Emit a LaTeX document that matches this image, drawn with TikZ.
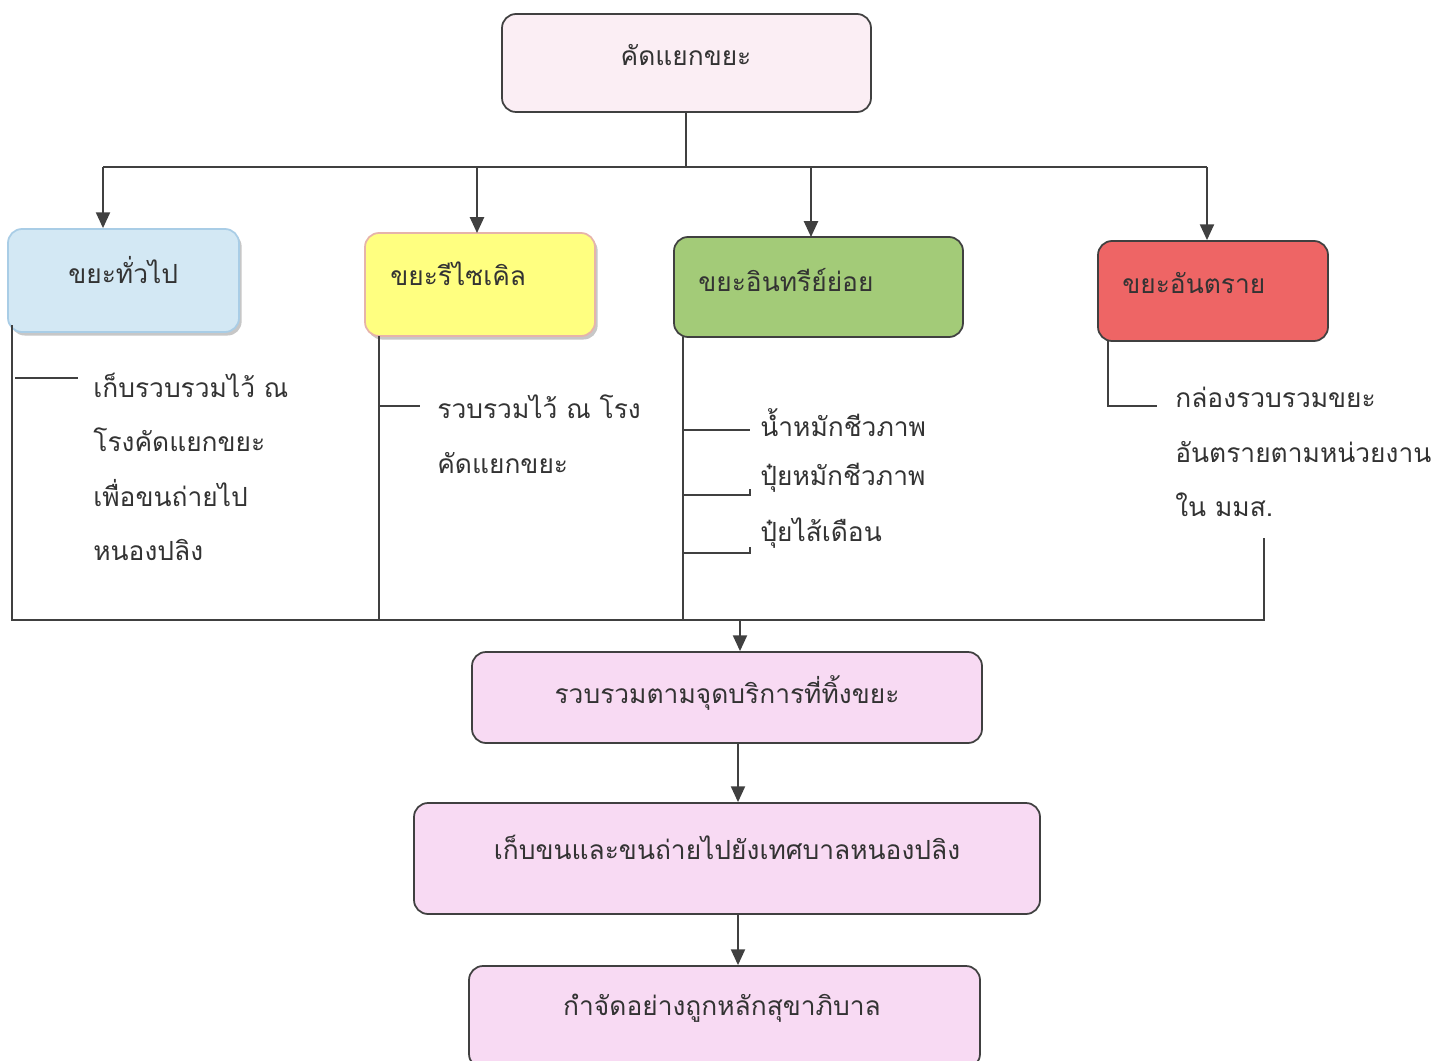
\documentclass[tikz,border=0pt]{standalone}
\usepackage{fontspec}
\newfontfamily\thaifont[Script=Thai]{Loma}
\usetikzlibrary{arrows.meta,fit,shadows}
\definecolor{ln}{HTML}{404040}
\definecolor{txc}{HTML}{333333}
\definecolor{pinkA}{HTML}{FBEEF4}
\definecolor{pinkB}{HTML}{F8DAF3}
\definecolor{blueA}{HTML}{D3E8F4}
\definecolor{blueB}{HTML}{A9CDE6}
\definecolor{yelA}{HTML}{FFFF80}
\definecolor{yelB}{HTML}{E6B4AA}
\definecolor{grnA}{HTML}{A3CB78}
\definecolor{redA}{HTML}{EE6565}
\tikzset{
  box/.style={draw=ln, line width=1pt, rounded corners=8pt, inner sep=0pt},
  shbox/.style={box, drop shadow={shadow xshift=1.5pt, shadow yshift=-2pt, fill=gray!55, opacity=0.8}},
  txt/.style={inner sep=0pt, text=txc, font=\thaifont\fontsize{15}{31}\selectfont, align=left},
  con/.style={draw=ln, line width=1.1pt},
  arr/.style={con, -{Triangle[length=9pt, width=8pt]}},
}
\begin{document}
\begin{tikzpicture}[x=0.02cm, y=-0.02cm]
\useasboundingbox (0,0) rectangle (1445,1061);
% boxes
\node[box, fill=pinkA, fit={(502,14) (871,112)}] (top) {};
\node[shbox, draw=blueB, fill=blueA, fit={(8,229) (239,332)}] (c1) {};
\node[shbox, draw=yelB, fill=yelA, fit={(365,233) (595,336)}] (c2) {};
\node[box, fill=grnA, fit={(674,237) (963,337)}] (c3) {};
\node[box, fill=redA, fit={(1098,241) (1328,341)}] (c4) {};
\node[box, fill=pinkB, fit={(472,652) (982,743)}] (b1) {};
\node[box, fill=pinkB, fit={(414,803) (1040,914)}] (b2) {};
\node[box, fill=pinkB, fit={(469,966) (980,1068)}] (b3) {};
% box texts
\node[txt] (ttop) at (686,55) {คัดแยกขยะ};
\node[txt, anchor=west] (t1) at (68,270) {ขยะทั่วไป};
\node[txt, anchor=west] (t2) at (390,274) {ขยะรีไซเคิล};
\node[txt, anchor=west] (t3) at (698,280) {ขยะอินทรีย์ย่อย};
\node[txt, anchor=west] (t4) at (1122,283) {ขยะอันตราย};
\node[txt] (tb1) at (727,693) {รวบรวมตามจุดบริการที่ทิ้งขยะ};
\node[txt] (tb2) at (727,847) {เก็บขนและขนถ่ายไปยังเทศบาลหนองปลิง};
\node[txt] (tb3) at (722,1008) {กำจัดอย่างถูกหลักสุขาภิบาล};
% description texts
\node[txt, anchor=west] (d1) at (93,467) {เก็บรวบรวมไว้ ณ\\โรงคัดแยกขยะ\\เพื่อขนถ่ายไป\\หนองปลิง};
\node[txt, anchor=west] (d2) at (437,434) {รวบรวมไว้ ณ โรง\\คัดแยกขยะ};
\node[txt, anchor=west] (d3a) at (760,423) {น้ำหมักชีวภาพ};
\node[txt, anchor=west] (d3b) at (760,478) {ปุ๋ยหมักชีวภาพ};
\node[txt, anchor=west] (d3c) at (760,533) {ปุ๋ยไส้เดือน};
\node[txt, anchor=west] (d4) at (1175,452) {กล่องรวบรวมขยะ\\อันตรายตามหน่วยงาน\\ใน มมส.};
% top bus
\coordinate (bus) at (686,167);
\coordinate (busL) at (103,167);
\coordinate (busR) at (1207,167);
\draw[con] (top.south -| bus) -- (bus);
\draw[con] (busL) -- (busR);
\draw[arr] (busL) -- (busL |- c1.north);
\draw[arr] (477,167) -- (477,233);
\draw[arr] (811,167) -- (811,237);
\draw[arr] (busR) -- (busR |- c4.north);
% bottom bus
\coordinate (bbL) at (12,620);
\coordinate (bbR) at (1264,620);
\coordinate (bbM) at (740,620);
\coordinate (hzTop) at (1264,538);
\draw[con] (12,325) -- (bbL) -- (bbR) -- (hzTop);
\draw[con] (379,336) -- (379,620);
\draw[con] (683,337) -- (683,620);
% ticks
\draw[con] (15,378) -- (78,378);
\draw[con] (379,406) -- (420,406);
\draw[con] (683,430) -- (750,430);
\draw[con] (683,495) -- (750,495) -- (750,489);
\draw[con] (683,553) -- (750,553) -- (750,547);
\draw[con] (1108,341) -- (1108,406) -- (1157,406);
% flow arrows
\draw[arr] (bbM) -- (bbM |- b1.north);
\draw[arr] (b1.south -| 738,0) -- (b2.north -| 738,0);
\draw[arr] (b2.south -| 738,0) -- (b3.north -| 738,0);
\end{tikzpicture}
\end{document}
